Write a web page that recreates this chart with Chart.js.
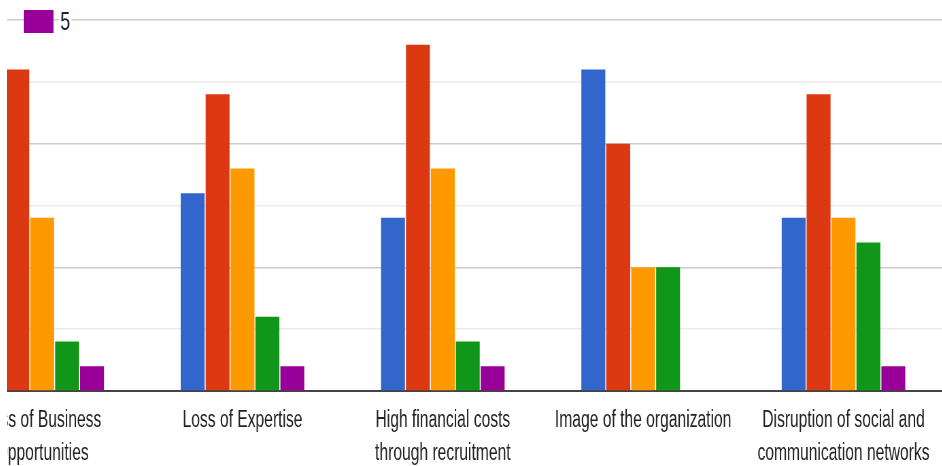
<!DOCTYPE html>
<html>
<head>
<meta charset="utf-8">
<script src="https://cdn.jsdelivr.net/npm/chart.js@4/dist/chart.umd.min.js"></script>
<style>
    html, body { margin: 0; padding: 0; background: #fff; }
    #frame { position: absolute; left: 7px; top: 0; width: 935px; height: 466px; overflow: hidden; }
    #stage { position: absolute; left: -65.5px; top: 0; width: 1473px; height: 466px; transform: scaleX(0.68); transform-origin: 0 0; }
    #legend { position: absolute; left: 120px; top: 10px; height: 23px; font: 26px "Liberation Sans", Arial, sans-serif; color: #222; }
    #legend .swatch { position: absolute; left: 0; top: 0; width: 44px; height: 23px; background: #990099; }
    #legend .label { position: absolute; left: 52px; top: -4px; line-height: 30px; background: #fff; padding: 0 2px; }
</style>
</head>
<body>
<div id="frame">
    <div id="stage">
        <canvas id="chart"></canvas>
        <div id="legend"><span class="swatch"></span><span class="label">5</span></div>
    </div>
</div>
<script>
// Answer categories (multi-line labels as drawn under the axis)
var categories = [
    ["Loss of Business", "Opportunities"],
    "Loss of Expertise",
    ["High financial costs", "through recruitment"],
    "Image of the organization",
    ["Disruption of social and", "communication networks"]
];

// Number of responses per rating
var rating1 = [10, 8, 7, 13, 7];
var rating2 = [13, 12, 14, 10, 12];
var rating3 = [7, 9, 9, 5, 7];
var rating4 = [2, 3, 2, 5, 6];
var rating5 = [1, 1, 1, 0, 1];

var ratingNames = ["1", "2", "3", "4", "5"];
var ratingColors = ["#3366cc", "#dc3912", "#ff9900", "#109618", "#990099"];

var yMax = 15;
var yStep = 2.5;

var series = [rating1, rating2, rating3, rating4, rating5];

var datasets = series.map(function(values, i) {
    return {
        label: ratingNames[i],
        data: values,
        backgroundColor: ratingColors[i],
        borderWidth: 0,
        categoryPercentage: 0.622,
        barPercentage: 0.96
    };
});

new Chart(document.getElementById("chart"), {
    type: "bar",
    data: { labels: categories, datasets: datasets },
    options: {
        responsive: true,
        maintainAspectRatio: false,
        animation: false,
        layout: { padding: { top: 20, left: 0, right: 0, bottom: 0 } },
        plugins: {
            legend: { display: false },
            tooltip: { enabled: false }
        },
        scales: {
            x: {
                grid: { display: false },
                border: { display: true, color: "#444", width: 2 },
                ticks: {
                    color: "#222",
                    font: { family: "'Liberation Sans', Arial, sans-serif", size: 23, lineHeight: 1.43 },
                    padding: 5,
                    maxRotation: 0,
                    autoSkip: false
                },
                afterFit: function(s) { s.height = 75; }
            },
            y: {
                min: 0,
                max: yMax,
                ticks: { display: false, stepSize: yStep },
                border: { display: false },
                grid: {
                    drawTicks: false,
                    lineWidth: 1.5,
                    color: function(ctx) {
                        var v = ctx.tick ? ctx.tick.value : 0;
                        if (v === 0) return "rgba(0,0,0,0)";
                        return v % 5 === 0 ? "#cccccc" : "#ebebeb";
                    }
                },
                afterFit: function(s) { s.width = 0; }
            }
        }
    }
});
</script>
</body>
</html>
